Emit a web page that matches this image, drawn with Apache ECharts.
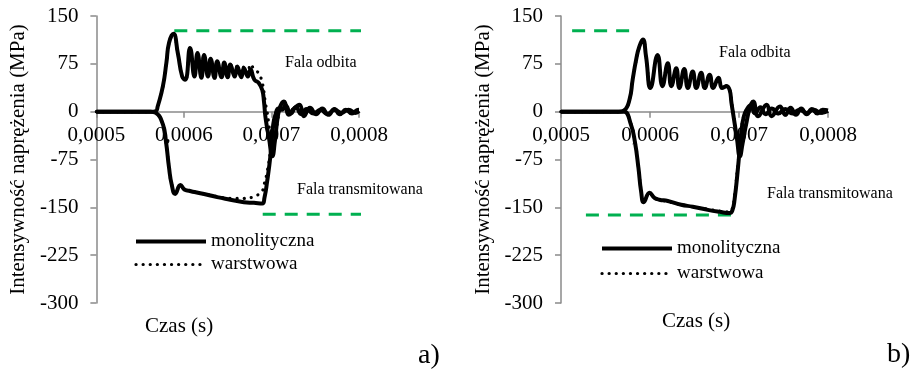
<!DOCTYPE html>
<html>
<head>
<meta charset="utf-8">
<script src="https://cdn.jsdelivr.net/npm/echarts@6/dist/echarts.min.js"></script>
<style>
  body { margin: 0; background: #fff; }
  #panelA { position: absolute; left: 0; top: 0; width: 460px; height: 371px; }
  #panelB { position: absolute; left: 460px; top: 0; width: 453px; height: 371px; }
</style>
</head>
<body>
<div id="panelA"></div>
<div id="panelB"></div>
<script>
// time in microseconds, stress in MPa

// a) reflected wave
const aReflT = [500, 562, 568, 570, 576, 580, 583, 588, 593, 598, 601.5, 607, 612, 615.5, 620, 623, 627.5, 630.5, 635, 638,
    643, 646, 650, 653, 658, 661, 665.5, 668.5, 673, 676, 680.5, 685.5, 689.5, 691.5, 693, 695, 697, 701, 704, 707,
    710, 714, 720, 725, 732, 737, 744, 751, 758, 765, 772, 778, 785, 792, 797, 800];
const aReflMono = [0, 0, 1, 8, 40, 77, 108, 122, 92, 55, 50, 100, 55, 92, 53, 89, 55, 83, 53, 79,
    54, 77, 54, 74, 55, 71, 54, 68, 55, 66, 50, 45, 34, 15, -7, -25, -40, -70, -45, -10,
    8, 16, -5, 4, 11, -7, 6, -4, 5, -5, 4, -4, 3, -3, 2, 3];
const aReflWarst = [0, 0, 1, 8, 40, 77, 108, 122, 92, 55, 50, 100, 55, 92, 53, 89, 55, 83, 53, 79,
    54, 77, 54, 74, 56, 72, 56, 70, 60, 74, 66, 60, 45, 30, 14, 0, -20, -60, -50, -15,
    5, 14, -4, 5, 10, -6, 5, -4, 5, -4, 4, -3, 3, -3, 2, 2];

// a) transmitted wave
const aTransT = [500, 562, 568, 576, 579.5, 583, 586, 590, 596, 600.5, 606, 612, 623, 638, 653, 668.5, 680, 689.5, 692, 695,
    699, 702, 704.5, 708, 712, 716, 722, 728, 734, 740, 748, 756, 764, 772, 780, 788, 796, 800];
const aTransMono = [0, 0, -2, -20, -47, -88, -114, -129, -115, -122, -124, -126, -129, -134, -138, -142, -143, -144, -135, -110,
    -67, -20, -5, 5, 3, 10, -3, 7, -4, 4, -3, 3, -4, 3, -2, 3, -2, 1];
const aTransWarst = [0, 0, -2, -20, -47, -88, -114, -128, -116, -122, -124, -126, -129, -133, -136, -136, -133, -124, -112, -95,
    -60, -22, -6, 4, 3, 8, -2, 6, -3, 4, -3, 3, -3, 2, -2, 2, -1, 1];

// b) reflected wave
const bReflT = [500, 565, 571, 577, 580.5, 584.5, 588, 592, 595.5, 600.5, 608.5, 614, 620, 624, 629.5, 633, 638.5, 642.5, 648, 652,
    657.5, 661.5, 667, 671, 677, 681, 686, 689.5, 691.5, 694.5, 697.5, 701, 704, 708, 712, 716, 721.5, 731, 736.5, 746,
    752, 758, 764, 770, 776, 782, 788, 794, 800];
const bReflMono = [0, 0, 2, 19, 50, 82, 102, 113, 87, 37, 89, 40, 76, 40, 68, 37, 67, 37, 63, 37,
    61, 37, 58, 37, 53, 37, 40, 34, 14, -13, -40, -70, -50, -20, 5, 16, -7, 11, -7, 8,
    -5, 6, -5, 5, -4, 4, -3, 3, 2];
const bReflWarst = [0, 0, 2, 18, 49, 81, 101, 112, 88, 38, 88, 41, 75, 41, 67, 38, 66, 38, 62, 38,
    60, 38, 57, 38, 52, 38, 41, 35, 16, -10, -38, -65, -48, -18, 4, 14, -6, 10, -6, 7,
    -5, 5, -4, 4, -4, 3, -3, 3, 2];

// b) transmitted wave
const bTransT = [500, 565, 571, 578.5, 583, 587, 590, 593, 599.5, 605, 610.5, 620, 635, 648, 665, 678, 689.5, 692.5, 695, 699,
    702.5, 705.5, 709, 713, 718, 724, 730, 737, 744, 752, 760, 768, 776, 784, 792, 800];
const bTransMono = [0, 0, 0, -20, -47, -88, -125, -142, -127, -135, -138, -140, -146, -149, -154, -157, -159, -155, -138, -86,
    -33, -7, 4, 10, -3, 7, -4, 5, -3, 4, -3, 3, -2, 3, -2, 1];
const bTransWarst = [0, 0, 0, -19, -46, -87, -124, -141, -128, -135, -138, -141, -146, -149, -153, -156, -157, -152, -132, -80,
    -30, -6, 4, 9, -3, 6, -4, 5, -3, 4, -2, 3, -2, 2, -2, 1];

// green reference levels
const aLevelTopT = [589, 893];
const aLevelTop = [127, 127];
const aLevelBotT = [690, 852];
const aLevelBot = [-161, -161];
const bLevelTopT = [512.5, 581];
const bLevelTop = [127, 127];
const bLevelBotT = [528, 692];
const bLevelBot = [-162, -162];

const yMin = -300, yMax = 150, yStep = 75;

const pairs = (t, v) => t.map((x, i) => [x * 1e-6, v[i]]);

const FONT = 'Liberation Serif';
const AXIS_GREY = '#8a8a8a';
const GRID_H = 287;

const monoStyle = {color: '#000', width: 4};
const warstStyle = {color: '#000', width: 3.2, type: [0.1, 7], cap: 'round'};

const monoLine = (data) => ({
    name: 'monolityczna', type: 'line', data: data, symbol: 'none', smooth: 0.5,
    lineStyle: monoStyle, itemStyle: {color: 'transparent'}, z: 3
});
const warstLine = (data) => ({
    name: 'warstwowa', type: 'line', data: data, symbol: 'none', smooth: 0.5,
    lineStyle: warstStyle, itemStyle: {color: 'transparent'}, z: 4
});
const levelLine = (data) => ({
    name: 'poziom', type: 'line', data: data, symbol: 'none', clip: false, silent: true,
    lineStyle: {color: '#00b050', width: 3, type: [13, 9]}, z: 2
});

const txt = (text, left, top, size) => ({
    type: 'text', left: left, top: top,
    style: {text: text, font: size + 'px "' + FONT + '"', fill: '#000'}
});

const panelOptions = (p) => ({
    animation: false,
    textStyle: {fontFamily: FONT},
    grid: {left: p.left, top: 16, width: p.width, height: GRID_H},
    xAxis: {
        type: 'value', min: 0.0005, max: 0.0008, interval: 0.0001,
        // the time axis crosses the stress axis at 0 MPa
        offset: -GRID_H * (0 - yMin) / (yMax - yMin),
        axisLine: {onZero: false, lineStyle: {color: AXIS_GREY, width: 1.5}},
        axisTick: {show: true, length: 6, lineStyle: {color: AXIS_GREY, width: 1.5}},
        splitLine: {show: false},
        axisLabel: {
            formatter: (v) => v.toFixed(4).replace('.', ','),
            fontSize: 21, color: '#000', margin: 13, fontFamily: FONT
        }
    },
    yAxis: {
        type: 'value', min: yMin, max: yMax, interval: yStep,
        name: 'Intensywność naprężenia (MPa)', nameLocation: 'middle', nameGap: p.nameGap,
        nameTextStyle: {fontSize: 21, color: '#000', fontFamily: FONT},
        axisLine: {show: true, lineStyle: {color: AXIS_GREY, width: 1.5}},
        axisTick: {show: true, length: 6, lineStyle: {color: AXIS_GREY, width: 1.5}},
        splitLine: {show: false},
        axisLabel: {fontSize: 21, color: '#000', margin: 18, fontFamily: FONT}
    },
    legend: {
        orient: 'vertical', left: p.legendLeft, top: p.legendTop, itemGap: p.legendGap,
        itemWidth: 70, itemHeight: 12,
        itemStyle: {opacity: 0},
        data: [
            {name: 'monolityczna', lineStyle: monoStyle},
            {name: 'warstwowa', lineStyle: warstStyle}
        ],
        textStyle: {fontSize: 19, color: '#000', fontFamily: FONT}
    },
    graphic: p.texts,
    series: [
        levelLine(p.levelTop),
        levelLine(p.levelBot),
        monoLine(p.reflMono),
        monoLine(p.transMono),
        warstLine(p.reflWarst),
        warstLine(p.transWarst)
    ]
});

const chartA = echarts.init(document.getElementById('panelA'));
const chartB = echarts.init(document.getElementById('panelB'));

chartA.setOption(panelOptions({
    left: 95, width: 264, nameGap: 67,
    legendLeft: 129, legendTop: 227, legendGap: 4,
    reflMono: pairs(aReflT, aReflMono), reflWarst: pairs(aReflT, aReflWarst),
    transMono: pairs(aTransT, aTransMono), transWarst: pairs(aTransT, aTransWarst),
    levelTop: pairs(aLevelTopT, aLevelTop), levelBot: pairs(aLevelBotT, aLevelBot),
    texts: [
        txt('Fala odbita', 285, 55, 16),
        txt('Fala transmitowana', 297, 182, 16),
        txt('Czas (s)', 145, 316, 21),
        txt('a)', 418, 342, 28)
    ]
}));

chartB.setOption(panelOptions({
    left: 101, width: 267, nameGap: 64,
    legendLeft: 135, legendTop: 234, legendGap: 6,
    reflMono: pairs(bReflT, bReflMono), reflWarst: pairs(bReflT, bReflWarst),
    transMono: pairs(bTransT, bTransMono), transWarst: pairs(bTransT, bTransWarst),
    levelTop: pairs(bLevelTopT, bLevelTop), levelBot: pairs(bLevelBotT, bLevelBot),
    texts: [
        txt('Fala odbita', 259, 45, 16),
        txt('Fala transmitowana', 307, 186, 16),
        txt('Czas (s)', 202, 311, 21),
        txt('b)', 427, 341, 28)
    ]
}));
</script>
</body>
</html>
